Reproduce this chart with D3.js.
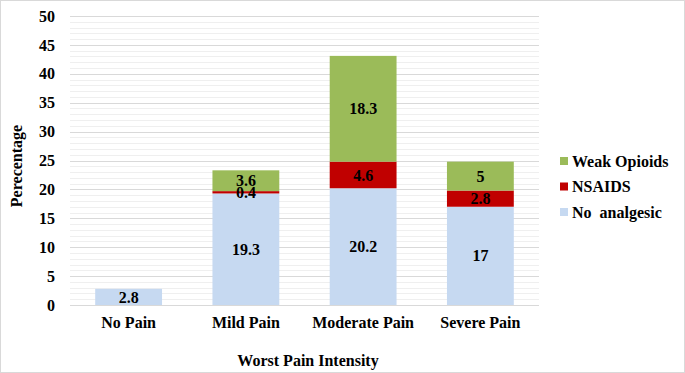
<!DOCTYPE html>
<html><head><meta charset="utf-8">
<script src="https://cdn.jsdelivr.net/npm/d3@7"></script>
<style>
html,body{margin:0;padding:0;background:#fff;}
</style></head>
<body><svg id="chart" width="685" height="373"></svg>
<script>
const categories = ["No Pain", "Mild Pain", "Moderate Pain", "Severe Pain"];
const seriesNames = ["No  analgesic", "NSAIDS", "Weak Opioids"];
const noAnalgesic = [2.8, 19.3, 20.2, 17];
const nsaids = [null, 0.4, 4.6, 2.8];
const weakOpioids = [null, 3.6, 18.3, 5];
const seriesColors = ["#c6d9f1", "#c00000", "#9bbb59"];
const yTicks = [0, 5, 10, 15, 20, 25, 30, 35, 40, 45, 50];

const FONT = "Liberation Serif";
const svg = d3.select("#chart").attr("font-family", FONT).attr("font-weight", "bold");
const W = 685, H = 373;
const m = {left: 70, right: 146, top: 16, bottom: 68};
const iw = W - m.left - m.right, ih = H - m.top - m.bottom;

svg.append("rect").attr("x", 0.5).attr("y", 0.5).attr("width", W - 1).attr("height", H - 1)
  .attr("fill", "#fff").attr("stroke", "#d9d9d9");

const x = d3.scaleBand().domain(categories).range([m.left, m.left + iw]).paddingInner(0.43).paddingOuter(0.215);
const y = d3.scaleLinear().domain([0, 50]).range([m.top + ih, m.top]);

const g = svg.append("g");
g.selectAll("line.minor").data(d3.range(0, 51, 1).filter(v => v % 5 !== 0)).join("line")
  .attr("x1", m.left).attr("x2", m.left + iw)
  .attr("y1", d => Math.round(y(d)) + 0.5).attr("y2", d => Math.round(y(d)) + 0.5)
  .attr("stroke", "#efefef").attr("stroke-width", 1);
g.selectAll("line.major").data(yTicks).join("line")
  .attr("x1", m.left).attr("x2", m.left + iw)
  .attr("y1", d => Math.round(y(d)) + 0.5).attr("y2", d => Math.round(y(d)) + 0.5)
  .attr("stroke", "#d9d9d9").attr("stroke-width", 1);

const rows = categories.map((c, i) => ({cat: c, s0: noAnalgesic[i] || 0, s1: nsaids[i] || 0, s2: weakOpioids[i] || 0, raw: [noAnalgesic[i], nsaids[i], weakOpioids[i]]}));
const stack = d3.stack().keys(["s0", "s1", "s2"])(rows);

stack.forEach((layer, li) => {
  svg.append("g").selectAll("rect").data(layer).join("rect")
    .attr("x", d => x(d.data.cat))
    .attr("width", x.bandwidth())
    .attr("y", d => y(d[1]))
    .attr("height", d => y(d[0]) - y(d[1]))
    .attr("fill", seriesColors[li]);
});
stack.forEach((layer, li) => {
  svg.append("g").selectAll("text").data(layer.filter(d => d.data.raw[li] != null)).join("text")
    .attr("x", d => x(d.data.cat) + x.bandwidth() / 2)
    .attr("y", d => (y(d[0]) + y(d[1])) / 2)
    .attr("dy", "0.35em")
    .attr("text-anchor", "middle")
    .attr("font-family", FONT).attr("font-weight", "bold")
    .attr("font-size", 16).attr("fill", "#000")
    .text(d => d.data.raw[li]);
});

const yAxis = d3.axisLeft(y).tickValues(yTicks).tickSize(0).tickPadding(15);
const ya = svg.append("g").attr("transform", `translate(${m.left},0)`).call(yAxis);
ya.attr("font-family", FONT).attr("font-size", 16);
ya.select(".domain").remove();
ya.selectAll("text").attr("font-family", FONT).attr("font-weight", "bold").attr("fill", "#000");

const xAxis = d3.axisBottom(x).tickSize(0).tickPadding(12);
const xa = svg.append("g").attr("transform", `translate(0,${m.top + ih})`).call(xAxis);
xa.attr("font-family", FONT).attr("font-size", 16);
xa.select(".domain").remove();
xa.selectAll("text").attr("font-family", FONT).attr("font-weight", "bold").attr("fill", "#000");

svg.append("text").attr("x", 308).attr("y", 366).attr("text-anchor", "middle")
  .attr("font-family", FONT).attr("font-weight", "bold").attr("font-size", 16).text("Worst Pain Intensity");
svg.append("text").attr("transform", "translate(22,166) rotate(-90)").attr("text-anchor", "middle")
  .attr("font-family", FONT).attr("font-weight", "bold").attr("font-size", 16).text("Perecentage");

const legendOrder = [2, 1, 0];
const lg = svg.append("g");
legendOrder.forEach((si, i) => {
  const ly = 161 + i * 25.5;
  lg.append("rect").attr("x", 560).attr("y", ly - 4).attr("width", 8).attr("height", 8).attr("fill", seriesColors[si]);
  lg.append("text").attr("x", 572).attr("y", ly).attr("dy", "0.35em").attr("font-size", 16)
    .attr("font-family", FONT).attr("font-weight", "bold")
    .attr("xml:space", "preserve").style("white-space", "pre").text(seriesNames[si]);
});
</script></body></html>
